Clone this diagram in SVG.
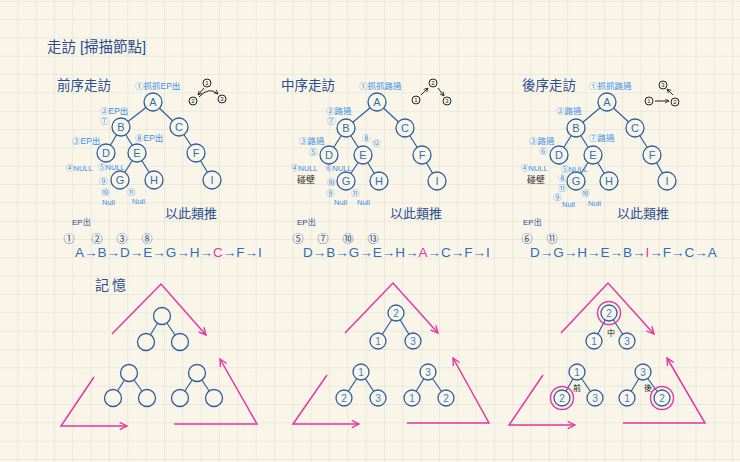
<svg xmlns="http://www.w3.org/2000/svg" width="740" height="462" viewBox="0 0 740 462">
<defs>
<pattern id="grid" width="18.33" height="18.33" patternUnits="userSpaceOnUse" x="0" y="1.7">
<path d="M18.33 0 V18.33 M0 18.33 H18.33" fill="none" stroke="#dcdad0" stroke-width="1"/>
</pattern>
<marker id="pk" viewBox="0 0 10 10" refX="9" refY="5" markerWidth="9" markerHeight="9" markerUnits="userSpaceOnUse" orient="auto">
<path d="M1,1 L9,5 L1,9" fill="none" stroke="#e8359f" stroke-width="1.5"/>
</marker>
<marker id="bk" viewBox="0 0 10 10" refX="9" refY="5" markerWidth="5" markerHeight="5" markerUnits="userSpaceOnUse" orient="auto">
<path d="M1,1 L9,5 L1,9" fill="none" stroke="#222" stroke-width="1.6"/>
</marker>
</defs>
<style>
text{font-family:"Liberation Sans","Noto Sans CJK TC",sans-serif}
.node circle{fill:#f9f6e9;stroke:#2e5e9e;stroke-width:1.3}
.node text{font-size:11px;fill:#2e6fb8;text-anchor:middle}
.mem circle{fill:#f9f6e9;stroke:#2e5e9e;stroke-width:1.3}
.mem circle.ring{fill:none;stroke:#e8359f;stroke-width:1.4}
.mem text{font-size:10px;fill:#3d7cc9;text-anchor:middle}
.edge line{stroke:#2e5e9e;stroke-width:1.2}
.lb{font-size:8.5px;fill:#3b8fe6}
.nl{font-size:7.5px;fill:#3b8fe6}
.ttl{font-size:13.5px;fill:#2a4d8f}
.dk{fill:#2a4d8f}
.blk{fill:#222}
.seq{font-size:13.5px;fill:#2e6fb8}
.pk{fill:#e8359f}
.pink{fill:none;stroke:#e8359f;stroke-width:1.5}
.sm circle{fill:none;stroke:#222;stroke-width:1}
.sm text{font-size:6px;fill:#222;text-anchor:middle}
.sa{fill:none;stroke:#222;stroke-width:1}
</style>
<rect width="740" height="462" fill="#f9f6e9"/>
<rect width="740" height="462" fill="url(#grid)"/>

<text x="47" y="52" class="ttl" style="font-size:14.5px">走訪 [掃描節點]</text>

<!-- section titles -->
<text x="57" y="90" class="ttl">前序走訪</text>
<text x="281" y="90" class="ttl">中序走訪</text>
<text x="522" y="90" class="ttl">後序走訪</text>

<!-- connectors -->
<g id="connectors" class="edge">
<line x1="153" y1="102" x2="121" y2="127"/><line x1="153" y1="102" x2="179" y2="127"/>
<line x1="121" y1="127" x2="106" y2="153"/><line x1="121" y1="127" x2="137" y2="153"/>
<line x1="179" y1="127" x2="196" y2="153"/><line x1="137" y1="153" x2="120" y2="180"/>
<line x1="137" y1="153" x2="154" y2="180"/><line x1="196" y1="153" x2="212" y2="180"/>

<line x1="377" y1="102" x2="346" y2="128"/><line x1="377" y1="102" x2="405" y2="128"/>
<line x1="346" y1="128" x2="329" y2="155"/><line x1="346" y1="128" x2="363" y2="155"/>
<line x1="405" y1="128" x2="422" y2="155"/><line x1="363" y1="155" x2="346" y2="181"/>
<line x1="363" y1="155" x2="379" y2="181"/><line x1="422" y1="155" x2="437" y2="181"/>

<line x1="607" y1="102" x2="576" y2="128"/><line x1="607" y1="102" x2="635" y2="128"/>
<line x1="576" y1="128" x2="559" y2="155"/><line x1="576" y1="128" x2="593" y2="155"/>
<line x1="635" y1="128" x2="652" y2="155"/><line x1="593" y1="155" x2="576" y2="181"/>
<line x1="593" y1="155" x2="609" y2="181"/><line x1="652" y1="155" x2="667" y2="181"/>

<line x1="162" y1="316" x2="146" y2="342"/><line x1="162" y1="316" x2="180" y2="342"/>
<line x1="129" y1="373" x2="113" y2="398"/><line x1="129" y1="373" x2="147" y2="398"/>
<line x1="197" y1="373" x2="180" y2="398"/><line x1="197" y1="373" x2="214" y2="398"/>

<line x1="396" y1="313" x2="378" y2="341"/><line x1="396" y1="313" x2="413" y2="341"/>
<line x1="361" y1="372" x2="344" y2="398"/><line x1="361" y1="372" x2="378" y2="398"/>
<line x1="428" y1="372" x2="412" y2="398"/><line x1="428" y1="372" x2="446" y2="398"/>

<line x1="609" y1="313" x2="594" y2="341"/><line x1="609" y1="313" x2="627" y2="341"/>
<line x1="577" y1="372" x2="562" y2="398"/><line x1="577" y1="372" x2="595" y2="398"/>
<line x1="643" y1="372" x2="627" y2="398"/><line x1="643" y1="372" x2="662" y2="398"/>
</g>

<!-- tree 1 -->
<g id="p-A" class="node"><circle cx="153" cy="102" r="9"/><text x="153" y="106">A</text></g>
<g id="p-B" class="node"><circle cx="121" cy="127" r="9"/><text x="121" y="131">B</text></g>
<g id="p-C" class="node"><circle cx="179" cy="127" r="9"/><text x="179" y="131">C</text></g>
<g id="p-D" class="node"><circle cx="106" cy="153" r="9"/><text x="106" y="157">D</text></g>
<g id="p-E" class="node"><circle cx="137" cy="153" r="9"/><text x="137" y="157">E</text></g>
<g id="p-F" class="node"><circle cx="196" cy="153" r="9"/><text x="196" y="157">F</text></g>
<g id="p-G" class="node"><circle cx="120" cy="180" r="9"/><text x="120" y="184">G</text></g>
<g id="p-H" class="node"><circle cx="154" cy="180" r="9"/><text x="154" y="184">H</text></g>
<g id="p-I" class="node"><circle cx="212" cy="180" r="9"/><text x="212" y="184">I</text></g>

<!-- tree 2 -->
<g id="i-A" class="node"><circle cx="377" cy="102" r="9"/><text x="377" y="106">A</text></g>
<g id="i-B" class="node"><circle cx="346" cy="128" r="9"/><text x="346" y="132">B</text></g>
<g id="i-C" class="node"><circle cx="405" cy="128" r="9"/><text x="405" y="132">C</text></g>
<g id="i-D" class="node"><circle cx="329" cy="155" r="9"/><text x="329" y="159">D</text></g>
<g id="i-E" class="node"><circle cx="363" cy="155" r="9"/><text x="363" y="159">E</text></g>
<g id="i-F" class="node"><circle cx="422" cy="155" r="9"/><text x="422" y="159">F</text></g>
<g id="i-G" class="node"><circle cx="346" cy="181" r="9"/><text x="346" y="185">G</text></g>
<g id="i-H" class="node"><circle cx="379" cy="181" r="9"/><text x="379" y="185">H</text></g>
<g id="i-I" class="node"><circle cx="437" cy="181" r="9"/><text x="437" y="185">I</text></g>

<!-- tree 3 -->
<g id="o-A" class="node"><circle cx="607" cy="102" r="9"/><text x="607" y="106">A</text></g>
<g id="o-B" class="node"><circle cx="576" cy="128" r="9"/><text x="576" y="132">B</text></g>
<g id="o-C" class="node"><circle cx="635" cy="128" r="9"/><text x="635" y="132">C</text></g>
<g id="o-D" class="node"><circle cx="559" cy="155" r="9"/><text x="559" y="159">D</text></g>
<g id="o-E" class="node"><circle cx="593" cy="155" r="9"/><text x="593" y="159">E</text></g>
<g id="o-F" class="node"><circle cx="652" cy="155" r="9"/><text x="652" y="159">F</text></g>
<g id="o-G" class="node"><circle cx="576" cy="181" r="9"/><text x="576" y="185">G</text></g>
<g id="o-H" class="node"><circle cx="609" cy="181" r="9"/><text x="609" y="185">H</text></g>
<g id="o-I" class="node"><circle cx="667" cy="181" r="9"/><text x="667" y="185">I</text></g>

<!-- small order diagrams -->
<g id="sm1" class="sm">
<circle cx="207" cy="83" r="4"/><text x="207" y="85">1</text>
<circle cx="193" cy="101" r="4"/><text x="193" y="103">2</text>
<circle cx="222" cy="99" r="4"/><text x="222" y="101">3</text>
<line x1="204" y1="88" x2="198" y2="95" class="sa" marker-end="url(#bk)"/>
<path d="M199,97 Q209,86 218,94" class="sa" marker-end="url(#bk)"/>
</g>
<g id="sm2" class="sm">
<circle cx="416" cy="100" r="4"/><text x="416" y="102">1</text>
<circle cx="433" cy="83" r="4"/><text x="433" y="85">2</text>
<circle cx="447" cy="101" r="4"/><text x="447" y="103">3</text>
<line x1="421" y1="95" x2="428" y2="88" class="sa" marker-end="url(#bk)"/>
<line x1="438" y1="88" x2="444" y2="96" class="sa" marker-end="url(#bk)"/>
</g>
<g id="sm3" class="sm">
<circle cx="663" cy="85" r="4"/><text x="663" y="87">3</text>
<circle cx="649" cy="101" r="4"/><text x="649" y="103">1</text>
<circle cx="675" cy="102" r="4"/><text x="675" y="104">2</text>
<line x1="655" y1="101" x2="669" y2="101" class="sa" marker-end="url(#bk)"/>
<line x1="673" y1="95" x2="667" y2="89" class="sa" marker-end="url(#bk)"/>
</g>

<!-- tree 1 labels -->
<text x="135" y="89" class="lb">①抓抓EP出</text>
<text x="100" y="114" class="lb">②EP出</text>
<text x="100" y="124" class="lb">⑦</text>
<text x="72" y="144" class="lb">③EP出</text>
<text x="135" y="141" class="lb">⑧EP出</text>
<text x="66" y="171" class="nl">④NULL</text>
<text x="98" y="170" class="nl">⑤NULL</text>
<text x="99" y="184" class="lb">⑨</text>
<text x="101" y="195" class="lb">⑩</text>
<text x="102" y="205" class="nl">Null</text>
<text x="127" y="195" class="lb">⑪</text>
<text x="132" y="204" class="nl">Null</text>

<!-- tree 2 labels -->
<text x="359" y="89" class="lb">①抓抓路過</text>
<text x="326" y="114" class="lb">②路過</text>
<text x="327" y="124" class="lb">⑦</text>
<text x="299" y="144" class="lb">③路過</text>
<text x="309" y="155" class="lb">⑤</text>
<text x="362" y="141" class="lb">⑧</text>
<text x="372" y="146" class="lb">⑫</text>
<text x="291" y="171" class="nl">④NULL</text>
<text x="297" y="183" class="blk" style="font-size:9px">碰壁</text>
<text x="325" y="171" class="nl">⑥NULL</text>
<text x="327" y="185" class="lb">⑩</text>
<text x="326" y="196" class="lb">⑨</text>
<text x="334" y="205" class="nl">Null</text>
<text x="351" y="196" class="lb">⑪</text>
<text x="357" y="205" class="nl">Null</text>

<!-- tree 3 labels -->
<text x="589" y="89" class="lb">①抓抓路過</text>
<text x="556" y="114" class="lb">②路過</text>
<text x="529" y="144" class="lb">③路過</text>
<text x="539" y="154" class="lb">⑥</text>
<text x="589" y="141" class="lb">⑦路過</text>
<text x="521" y="171" class="nl">④NULL</text>
<text x="527" y="183" class="blk" style="font-size:9px">碰壁</text>
<text x="561" y="172" class="nl">⑤NULL</text>
<text x="558" y="181" class="lb">⑧</text>
<text x="558" y="191" class="lb">⑪</text>
<text x="553" y="200" class="lb">⑨</text>
<text x="562" y="207" class="nl">Null</text>
<text x="581" y="196" class="lb">⑩</text>
<text x="588" y="206" class="nl">Null</text>

<!-- similar text -->
<text x="165" y="218" class="dk" style="font-size:13px">以此類推</text>
<text x="390" y="218" class="dk" style="font-size:13px">以此類推</text>
<text x="617" y="218" class="dk" style="font-size:13px">以此類推</text>
<text x="72" y="225" class="dk" style="font-size:8px">EP出</text>
<text x="297" y="225" class="dk" style="font-size:8px">EP出</text>
<text x="523" y="225" class="dk" style="font-size:8px">EP出</text>

<!-- sequence numbers -->
<g class="dk" style="font-size:11px;text-anchor:middle">
<text x="69" y="243">①</text><text x="97" y="243">②</text><text x="122" y="243">③</text><text x="147" y="243">⑧</text>
<text x="298" y="243">⑤</text><text x="323" y="243">⑦</text><text x="348" y="243">⑩</text><text x="373" y="243">⑬</text>
<text x="527" y="243">⑥</text><text x="552" y="243">⑪</text>
</g>

<!-- sequences -->
<text x="75" y="257" class="seq">A→B→D→E→G→H→<tspan class="pk">C</tspan>→F→I</text>
<text x="303" y="257" class="seq">D→B→G→E→H→<tspan class="pk">A</tspan>→C→F→I</text>
<text x="530" y="257" class="seq">D→G→H→E→B→<tspan class="pk">I</tspan>→F→C→A</text>

<!-- memory -->
<text x="95" y="290" class="dk" style="font-size:14px;letter-spacing:3px">記憶</text>

<g id="m1" class="mem">
<circle cx="162" cy="316" r="8.5"/><circle cx="146" cy="342" r="8.5"/><circle cx="180" cy="342" r="8.5"/>
<circle cx="129" cy="373" r="8.5"/><circle cx="113" cy="398" r="8.5"/><circle cx="147" cy="398" r="8.5"/>
<circle cx="197" cy="373" r="8.5"/><circle cx="180" cy="398" r="8.5"/><circle cx="214" cy="398" r="8.5"/>
</g>
<g id="m2" class="mem">
<circle cx="396" cy="313" r="8"/><text x="396" y="317">2</text>
<circle cx="378" cy="341" r="8"/><text x="378" y="345">1</text>
<circle cx="413" cy="341" r="8"/><text x="413" y="345">3</text>
<circle cx="361" cy="372" r="8"/><text x="361" y="376">1</text>
<circle cx="344" cy="398" r="8"/><text x="344" y="402">2</text>
<circle cx="378" cy="398" r="8"/><text x="378" y="402">3</text>
<circle cx="428" cy="372" r="8"/><text x="428" y="376">3</text>
<circle cx="412" cy="398" r="8"/><text x="412" y="402">1</text>
<circle cx="446" cy="398" r="8"/><text x="446" y="402">2</text>
</g>
<g id="m3" class="mem">
<circle cx="609" cy="313" r="8"/><text x="609" y="317">2</text>
<circle cx="609" cy="313" r="11.5" class="ring"/>
<circle cx="594" cy="341" r="8"/><text x="594" y="345">1</text>
<circle cx="627" cy="341" r="8"/><text x="627" y="345">3</text>
<circle cx="577" cy="372" r="8"/><text x="577" y="376">1</text>
<circle cx="562" cy="398" r="8"/><text x="562" y="402">2</text>
<circle cx="562" cy="398" r="11.5" class="ring"/>
<circle cx="595" cy="398" r="8"/><text x="595" y="402">3</text>
<circle cx="643" cy="372" r="8"/><text x="643" y="376">3</text>
<circle cx="627" cy="398" r="8"/><text x="627" y="402">1</text>
<circle cx="662" cy="398" r="8"/><text x="662" y="402">2</text>
<circle cx="662" cy="398" r="11.5" class="ring"/>
</g>
<text x="611" y="336" class="blk" style="font-size:8px;text-anchor:middle">中</text>
<text x="577" y="391" class="blk" style="font-size:8px;text-anchor:middle">前</text>
<text x="648" y="391" class="blk" style="font-size:8px;text-anchor:middle">後</text>

<!-- pink rotation arrows -->
<g id="pink-arrows">
<polyline points="112,334 161,284 206,335" class="pink" marker-end="url(#pk)"/>
<polyline points="94,377 61,426 127,426" class="pink" marker-end="url(#pk)"/>
<polyline points="174,424 257,424 220,359" class="pink" marker-end="url(#pk)"/>

<polyline points="345,333 393,283 438,333" class="pink" marker-end="url(#pk)"/>
<polyline points="327,375 293,424 359,424" class="pink" marker-end="url(#pk)"/>
<polyline points="407,423 489,423 453,358" class="pink" marker-end="url(#pk)"/>

<polyline points="561,333 608,283 654,334" class="pink" marker-end="url(#pk)"/>
<polyline points="543,375 509,425 575,425" class="pink" marker-end="url(#pk)"/>
<polyline points="623,423 705,423 667,358" class="pink" marker-end="url(#pk)"/>
</g>
</svg>
